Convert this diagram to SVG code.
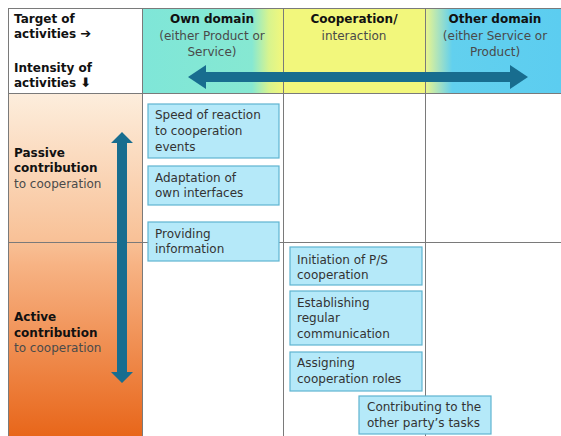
<svg xmlns="http://www.w3.org/2000/svg" width="561" height="436" viewBox="0 0 561 436">
<defs>
<linearGradient id="gOwn" x1="142" y1="0" x2="283" y2="0" gradientUnits="userSpaceOnUse">
<stop offset="0" stop-color="#7fe6d8"/>
<stop offset="0.78" stop-color="#86e8d2"/>
<stop offset="0.9" stop-color="#d8f48e"/>
<stop offset="1" stop-color="#f2f77c"/>
</linearGradient>
<linearGradient id="gOther" x1="425" y1="0" x2="561" y2="0" gradientUnits="userSpaceOnUse">
<stop offset="0" stop-color="#eef68a"/>
<stop offset="0.1" stop-color="#a8e2c0"/>
<stop offset="0.2" stop-color="#62d0ee"/>
<stop offset="1" stop-color="#5ccdf0"/>
</linearGradient>
<linearGradient id="gLeft" x1="0" y1="93" x2="0" y2="436" gradientUnits="userSpaceOnUse">
<stop offset="0" stop-color="#fdeedd"/>
<stop offset="0.43" stop-color="#f8c197"/>
<stop offset="0.5" stop-color="#f7b384"/>
<stop offset="1" stop-color="#e8661a"/>
</linearGradient>
<style>
.t{font-family:"DejaVu Sans","Liberation Sans",sans-serif;font-size:12px;fill:#333}
.b{font-weight:bold;fill:#111}
.g{fill:#4a4a4a}
.box{fill:#b5e9f9;stroke:#5fb4d0;stroke-width:1.2}
.grid{stroke:#7a7a7a;stroke-width:1;fill:none}
.arr{fill:#186d8f}
</style>
</defs>
<rect x="0" y="0" width="561" height="436" fill="#ffffff"/>
<g id="backgrounds">
<rect x="8" y="8" width="134" height="85" fill="#ffffff"/>
<rect x="142" y="8" width="141" height="85" fill="url(#gOwn)"/>
<rect x="283" y="8" width="142" height="85" fill="#f2f77c"/>
<rect x="425" y="8" width="136" height="85" fill="url(#gOther)"/>
<rect x="8" y="93" width="134" height="343" fill="url(#gLeft)"/>
</g>
<g id="grid" class="grid">
<rect x="8.5" y="8.5" width="560" height="440"/>
<line x1="142.5" y1="8" x2="142.5" y2="436"/>
<line x1="283.5" y1="8" x2="283.5" y2="436"/>
<line x1="425.5" y1="8" x2="425.5" y2="436"/>
<line x1="8" y1="93.5" x2="561" y2="93.5"/>
<line x1="8" y1="242.5" x2="561" y2="242.5"/>
</g>
<g id="header-corner">
<text class="t b" x="14" y="23">Target of</text>
<text class="t b" x="14" y="38">activities <tspan font-size="13">➔</tspan></text>
<text class="t b" x="14" y="72">Intensity of</text>
<text class="t b" x="14" y="87">activities <tspan font-size="13">⬇</tspan></text>
</g>
<g id="col-own" text-anchor="middle">
<text class="t b" x="212" y="23">Own domain</text>
<text class="t g" x="212" y="40">(either Product or</text>
<text class="t g" x="212" y="56">Service)</text>
</g>
<g id="col-coop" text-anchor="middle">
<text class="t b" x="354" y="23">Cooperation/</text>
<text class="t g" x="354" y="40">interaction</text>
</g>
<g id="col-other" text-anchor="middle">
<text class="t b" x="495" y="23">Other domain</text>
<text class="t g" x="495" y="40">(either Service or</text>
<text class="t g" x="495" y="56">Product)</text>
</g>
<g id="row-passive">
<text class="t b" x="14" y="157">Passive</text>
<text class="t b" x="14" y="172">contribution</text>
<text class="t g" x="14" y="188">to cooperation</text>
</g>
<g id="row-active">
<text class="t b" x="14" y="321">Active</text>
<text class="t b" x="14" y="337">contribution</text>
<text class="t g" x="14" y="352">to cooperation</text>
</g>
<g id="connectors">
<path class="arr" d="M188,77 L206,65 L206,72 L510,72 L510,65 L528,77 L510,89 L510,82 L206,82 L206,89 Z"/>
<path class="arr" d="M122,132 L133,143 L127,143 L127,372 L133,372 L122,383 L111,372 L117,372 L117,143 L111,143 Z"/>
</g>
<g id="n-speed">
<rect class="box" x="148" y="104" width="131" height="54"/>
<text class="t" x="155" y="119">Speed of reaction</text>
<text class="t" x="155" y="135">to cooperation</text>
<text class="t" x="155" y="151">events</text>
</g>
<g id="n-adaptation">
<rect class="box" x="148" y="166" width="131" height="39"/>
<text class="t" x="155" y="182">Adaptation of</text>
<text class="t" x="155" y="197">own interfaces</text>
</g>
<g id="n-providing">
<rect class="box" x="148" y="222" width="131" height="39"/>
<text class="t" x="155" y="238">Providing</text>
<text class="t" x="155" y="253">information</text>
</g>
<g id="n-initiation">
<rect class="box" x="290" y="247" width="132" height="38"/>
<text class="t" x="297" y="264">Initiation of P/S</text>
<text class="t" x="297" y="279">cooperation</text>
</g>
<g id="n-establishing">
<rect class="box" x="290" y="291" width="132" height="54"/>
<text class="t" x="297" y="307">Establishing</text>
<text class="t" x="297" y="322">regular</text>
<text class="t" x="297" y="338">communication</text>
</g>
<g id="n-assigning">
<rect class="box" x="290" y="352" width="132" height="39"/>
<text class="t" x="297" y="367">Assigning</text>
<text class="t" x="297" y="383">cooperation roles</text>
</g>
<g id="n-contributing">
<rect class="box" x="359" y="396" width="132" height="38"/>
<text class="t" x="367" y="411">Contributing to the</text>
<text class="t" x="367" y="427">other party’s tasks</text>
</g>
</svg>
